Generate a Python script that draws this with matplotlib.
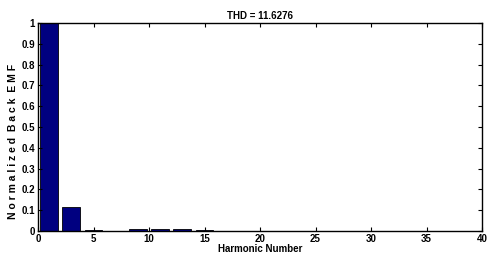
import numpy as np
import matplotlib.pyplot as plt

plt.rcParams['font.family'] = ['Liberation Sans', 'DejaVu Sans']
plt.rcParams['font.weight'] = 'bold'

# harmonic spectrum (odd harmonics)
harmonics = [1, 3, 5, 7, 9, 11, 13, 15, 17, 19, 21, 23, 25, 27, 29, 31, 33, 35, 37, 39]
emf = [1.0, 0.115, 0.004, 0.001, 0.012, 0.008, 0.008, 0.005, 0.001, 0.001,
       0.001, 0.001, 0.001, 0.001, 0.001, 0.001, 0.001, 0.001, 0.001, 0.001]
thd = 11.6276

fig = plt.figure(figsize=(4.89, 2.57), dpi=100)
ax = fig.add_axes([38/489, 1 - 231/257, 444/489, 208/257])
ax.bar(harmonics, emf, width=1.6, color='#000080', edgecolor='black', linewidth=0.6)
ax.set_xlim(0, 40)
ax.set_ylim(0, 1)
ax.set_xticks(np.arange(0, 41, 5))
ax.set_yticks(np.arange(0, 1.01, 0.1))
ax.set_yticklabels(['0', '0.1', '0.2', '0.3', '0.4', '0.5', '0.6', '0.7', '0.8', '0.9', '1'])
ax.tick_params(direction='in', top=True, right=True, labelsize=7, length=3, pad=2, width=0.8)
for s in ax.spines.values():
    s.set_linewidth(1.0)
ax.set_title('THD = %.4f' % thd, fontsize=7, fontweight='bold', pad=3)
ax.set_xlabel('Harmonic Number', fontsize=7, fontweight='bold', labelpad=0)
ax.set_ylabel('N o r m a l i z e d  B a c k  E M F', fontsize=7.5, fontweight='bold', labelpad=1)
ax.yaxis.set_label_coords(-0.045, 0.43)

plt.savefig('out.png', dpi=100)
